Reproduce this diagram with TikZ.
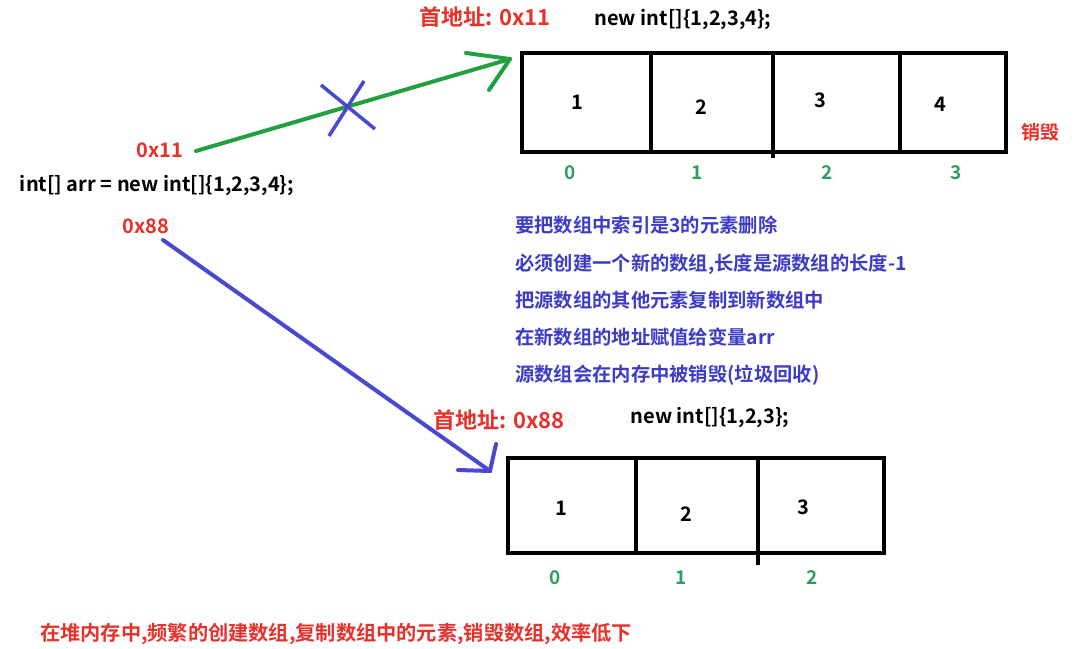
\documentclass[tikz,border=0pt]{standalone}
\usepackage{fontspec}
\setmainfont{Noto Sans CJK SC}[BoldFont={Noto Sans CJK SC Bold}]
\newfontfamily\cjk{Noto Sans CJK SC}[BoldFont={Noto Sans CJK SC Bold}]
\usetikzlibrary{arrows.meta}
\definecolor{myred}{HTML}{E8302A}
\definecolor{mygreen}{HTML}{22A040}
\definecolor{idxgreen}{HTML}{2E9E5E}
\definecolor{myblue}{HTML}{3C3CC8}
\definecolor{arrblue}{HTML}{4848D0}
\begin{document}
\begin{tikzpicture}[x=1pt,y=-1pt,
  lbl/.style={font=\bfseries\fontsize{20}{24}\selectfont, inner sep=0pt},
  redlbl/.style={lbl, text=myred},
  addrlbl/.style={redlbl, font=\bfseries\fontsize{22}{24}\selectfont},
  note/.style={font=\cjk\bfseries\fontsize{19.3}{22}\selectfont, text=myblue, inner sep=0pt, anchor=west},
  val/.style={font=\bfseries\fontsize{20}{22}\selectfont, inner sep=0pt},
  idx/.style={font=\bfseries\fontsize{19}{22}\selectfont, text=idxgreen, inner sep=0pt},
  cell/.style={draw, line width=4pt, anchor=north west, inner sep=0pt, outer sep=0pt},
  arm/.style={line width=4pt, line cap=round}
]
\useasboundingbox (0,0) rectangle (1086,648);
% ---- top array
\node[cell, minimum width=129pt, minimum height=99pt] (t0) at (522,53) {};
\node[cell, minimum width=122pt, minimum height=99pt] (t1) at (651,53) {};
\node[cell, minimum width=127pt, minimum height=99pt] (t2) at (773,53) {};
\node[cell, minimum width=106pt, minimum height=99pt] (t3) at (900,53) {};
\draw[line width=4pt] (t1.south east) -- ++(0,6);
\node[val] (v0) at (577,102) {1};
\node[val] (v1) at (701,107) {2};
\node[val] (v2) at (820,100) {3};
\node[val] (v3) at (940,104) {4};
\node[idx] (i0) at (570,173) {0};
\node[idx] (i1) at (697,173) {1};
\node[idx] (i2) at (827,173) {2};
\node[idx] (i3) at (956,173) {3};
\node[redlbl, font=\cjk\bfseries\fontsize{19}{21}\selectfont] (destroy) at (1040,132) {销毁};
\node[addrlbl] (addr1) at (485,17) {首地址: 0x11};
\node[lbl] (code1) at (683,20) {new int[]\{1,2,3,4\};};
% ---- left side
\node[redlbl] (p11) at (160,150) {0x11};
\node[lbl] (decl) at (157,186) {int[] arr = new int[]\{1,2,3,4\};};
\node[redlbl] (p88) at (146,226) {0x88};
% ---- green arrow (old reference, crossed out)
\coordinate (gs) at (196,151);
\coordinate (gt) at (510,59);
\draw[mygreen, arm] (gs) -- (gt);
\draw[mygreen, arm] (gt) -- (466,53);
\draw[mygreen, arm] (gt) -- (489,90);
\draw[arrblue, line width=3.5pt] (321,85) -- (375,129);
\draw[arrblue, line width=3.5pt] (329,136) -- (364,81);
% ---- notes
\node[note] (n1) at (515,225) {要把数组中索引是3的元素删除};
\node[note] (n2) at (515,264) {必须创建一个新的数组,长度是源数组的长度-1};
\node[note] (n3) at (515,300) {把源数组的其他元素复制到新数组中};
\node[note] (n4) at (515,337) {在新数组的地址赋值给变量arr};
\node[note] (n5) at (515,375) {源数组会在内存中被销毁(垃圾回收)};
% ---- bottom array
\node[addrlbl] (addr2) at (499,420) {首地址: 0x88};
\node[lbl] (code2) at (710,418) {new int[]\{1,2,3\};};
\node[cell, minimum width=128pt, minimum height=95pt] (b0) at (508,458) {};
\node[cell, minimum width=122pt, minimum height=95pt] (b1) at (636,458) {};
\node[cell, minimum width=126pt, minimum height=95pt] (b2) at (758,458) {};
\draw[line width=4pt] (b1.south east) -- ++(0,12);
\node[val] (w0) at (561,508) {1};
\node[val] (w1) at (686,514) {2};
\node[val] (w2) at (803,507) {3};
\node[idx] (j0) at (555,578) {0};
\node[idx] (j1) at (681,578) {1};
\node[idx] (j2) at (812,578) {2};
% ---- blue arrow (new reference)
\coordinate (bs) at (163,240);
\coordinate (bt) at (490,471);
\draw[arrblue, arm] (bs) -- (bt);
\draw[arrblue, arm] (bt) -- (458,470);
\draw[arrblue, arm] (bt) -- (496,444);
% ---- bottom remark
\node[redlbl, font=\cjk\bfseries\fontsize{20.2}{23}\selectfont, anchor=west] (remark) at (40,634) {在堆内存中,频繁的创建数组,复制数组中的元素,销毁数组,效率低下};
\end{tikzpicture}
\end{document}
